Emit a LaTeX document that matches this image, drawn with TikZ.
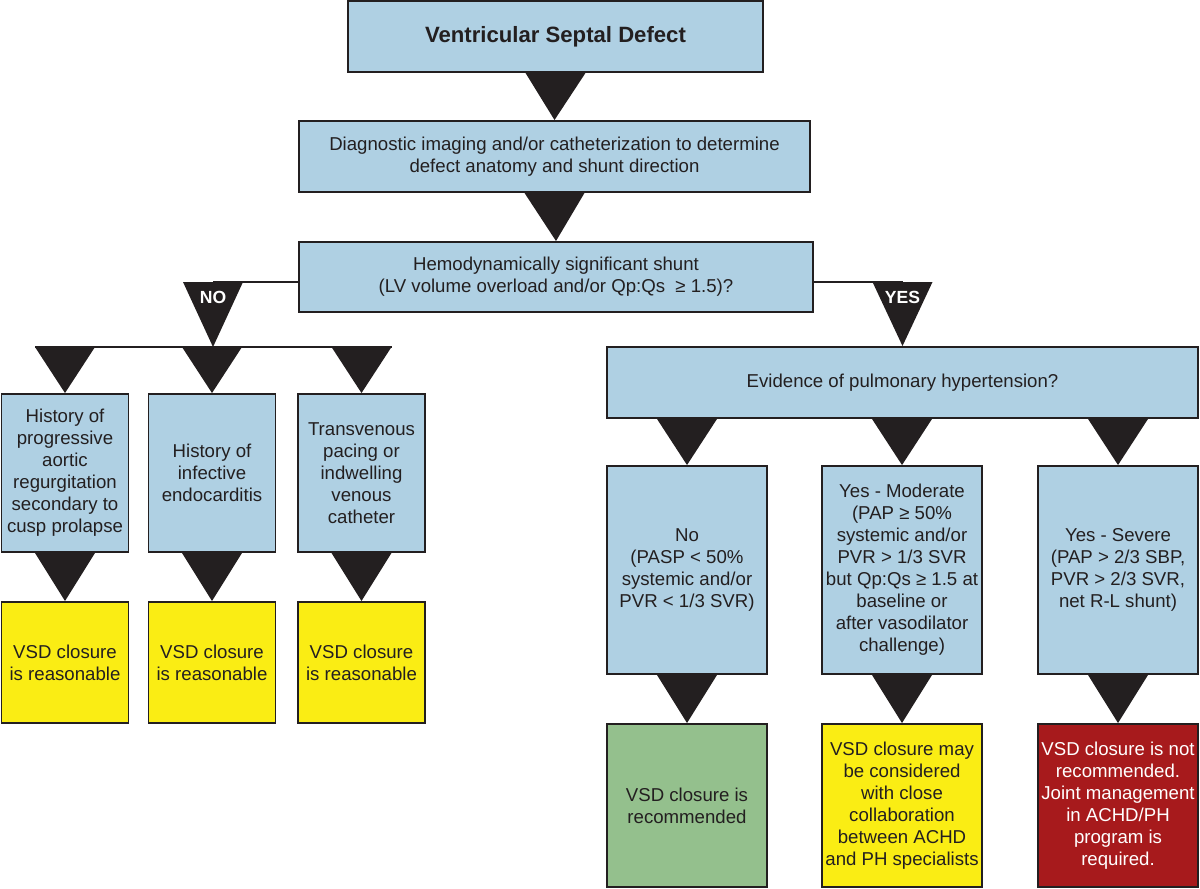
\documentclass[tikz,border=0pt]{standalone}
\usepackage{fontspec}
\setmainfont{Liberation Sans}
\usetikzlibrary{calc}
\definecolor{boxblue}{RGB}{175,208,227}
\definecolor{boxyellow}{RGB}{250,237,20}
\definecolor{boxgreen}{RGB}{148,192,141}
\definecolor{boxred}{RGB}{167,26,28}
\definecolor{edgegray}{RGB}{35,31,32}

\begin{document}
\begin{tikzpicture}[box/.style={draw=edgegray,line width=1.1pt,inner sep=0pt,align=center,text=edgegray,font=\fontsize{10.6}{12.5}\selectfont},
                query/.style={box,fill=boxblue},
                okbox/.style={box,fill=boxyellow},
                gobox/.style={box,fill=boxgreen},
                stopbox/.style={box,fill=boxred,text=white},
                wedge/.style={fill=edgegray},
                link/.style={draw=edgegray,line width=1.1pt},
                answer/.style={text=white,font=\bfseries\fontsize{10}{12}\selectfont}]
                \useasboundingbox (0,0) rectangle (24,-17.76);
                \node[query,minimum width=8.3cm,minimum height=1.42cm,font=\bfseries\fontsize{12.6}{15}\selectfont](VSD)at(11.11,-0.73){Ventricular Septal Defect};
                \node[query,minimum width=10.22cm,minimum height=1.42cm](Img)at(11.09,-3.13){Diagnostic imaging and/or catheterization to determine\\defect anatomy and shunt direction};
                \node[query,minimum width=10.28cm,minimum height=1.4cm](Shunt)at(11.12,-5.54){Hemodynamically significant shunt\\(LV volume overload and/or Qp:Qs\ \ ≥ 1.5)?};

                % no shunt
                \node[query,minimum width=2.54cm,minimum height=3.16cm](A)at(1.3,-9.46){History of\\progressive\\aortic\\regurgitation\\secondary to\\cusp prolapse};
                \node[query,minimum width=2.54cm,minimum height=3.16cm](B)at(4.24,-9.46){History of\\infective\\endocarditis};
                \node[query,minimum width=2.54cm,minimum height=3.16cm](C)at(7.23,-9.46){Transvenous\\pacing or\\indwelling\\venous\\catheter};
                \node[okbox,minimum width=2.54cm,minimum height=2.42cm](A_)at(1.3,-13.25){VSD closure\\is reasonable};
                \node[okbox,minimum width=2.54cm,minimum height=2.42cm](B_)at(4.24,-13.25){VSD closure\\is reasonable};
                \node[okbox,minimum width=2.54cm,minimum height=2.42cm](C_)at(7.23,-13.25){VSD closure\\is reasonable};

                % shunt
                \node[query,minimum width=11.82cm,minimum height=1.42cm](PH)at(18.05,-7.65){Evidence of pulmonary hypertension?};
                \node[query,minimum width=3.2cm,minimum height=4.16cm](1)at(13.74,-11.4){No\\(PASP < 50\%\\systemic and/or\\PVR < 1/3 SVR)};
                \node[query,minimum width=3.2cm,minimum height=4.16cm](2)at(18.04,-11.4){Yes - Moderate\\(PAP ≥ 50\%\\systemic and/or\\PVR > 1/3 SVR\\but Qp:Qs ≥ 1.5 at\\baseline or\\after vasodilator\\challenge)};
                \node[query,minimum width=3.2cm,minimum height=4.16cm](3)at(22.36,-11.4){Yes - Severe\\(PAP > 2/3 SBP,\\PVR > 2/3 SVR,\\net R-L shunt)};
                \node[gobox,minimum width=3.2cm,minimum height=3.26cm](1_)at(13.74,-16.11){VSD closure is\\recommended};
                \node[okbox,minimum width=3.2cm,minimum height=3.26cm](2_)at(18.04,-16.11){VSD closure may\\be considered\\with close\\collaboration\\between ACHD\\and PH specialists};
                \node[stopbox,minimum width=3.2cm,minimum height=3.26cm](3_)at(22.36,-16.11){VSD closure is not\\recommended.\\Joint management\\in ACHD/PH\\program is\\required.};

                \coordinate(no)at(4.26,-5.64);
                \coordinate(bar)at(4.26,-6.94);
                \coordinate(yes)at(PH.north |- no);

                \fill[wedge](VSD.south) ++(-0.6,0) -- ++(1.2,0) -- (Img.north) -- cycle;
                \fill[wedge](Img.south) ++(-0.6,0) -- ++(1.2,0) -- (Shunt.north) -- cycle;

                \path[link](Shunt.west |- no) -- (no);
                \fill[wedge](no) ++(-0.6,0) -- ++(1.2,0) -- (bar) -- cycle;
                \node[answer](NO)at($(no)+(0,-0.3)$){NO};
                \path[link]($(A.north |- bar)+(-0.6,0)$) -- ($(C.north |- bar)+(0.6,0)$);
                \fill[wedge](A.north |- bar) ++(-0.6,0) -- ++(1.2,0) -- (A.north) -- cycle;
                \fill[wedge](B.north |- bar) ++(-0.6,0) -- ++(1.2,0) -- (B.north) -- cycle;
                \fill[wedge](C.north |- bar) ++(-0.6,0) -- ++(1.2,0) -- (C.north) -- cycle;
                \fill[wedge](A.south) ++(-0.6,0) -- ++(1.2,0) -- (A_.north) -- cycle;
                \fill[wedge](B.south) ++(-0.6,0) -- ++(1.2,0) -- (B_.north) -- cycle;
                \fill[wedge](C.south) ++(-0.6,0) -- ++(1.2,0) -- (C_.north) -- cycle;

                \path[link](Shunt.east |- yes) -- (yes);
                \fill[wedge](yes) ++(-0.6,0) -- ++(1.2,0) -- (PH.north) -- cycle;
                \node[answer](YES)at($(yes)+(0,-0.3)$){YES};
                \fill[wedge](1.north |- PH.south) ++(-0.6,0) -- ++(1.2,0) -- (1.north) -- cycle;
                \fill[wedge](2.north |- PH.south) ++(-0.6,0) -- ++(1.2,0) -- (2.north) -- cycle;
                \fill[wedge](3.north |- PH.south) ++(-0.6,0) -- ++(1.2,0) -- (3.north) -- cycle;
                \fill[wedge](1.south) ++(-0.6,0) -- ++(1.2,0) -- (1_.north) -- cycle;
                \fill[wedge](2.south) ++(-0.6,0) -- ++(1.2,0) -- (2_.north) -- cycle;
                \fill[wedge](3.south) ++(-0.6,0) -- ++(1.2,0) -- (3_.north) -- cycle;
            \end{tikzpicture}
\end{document}
